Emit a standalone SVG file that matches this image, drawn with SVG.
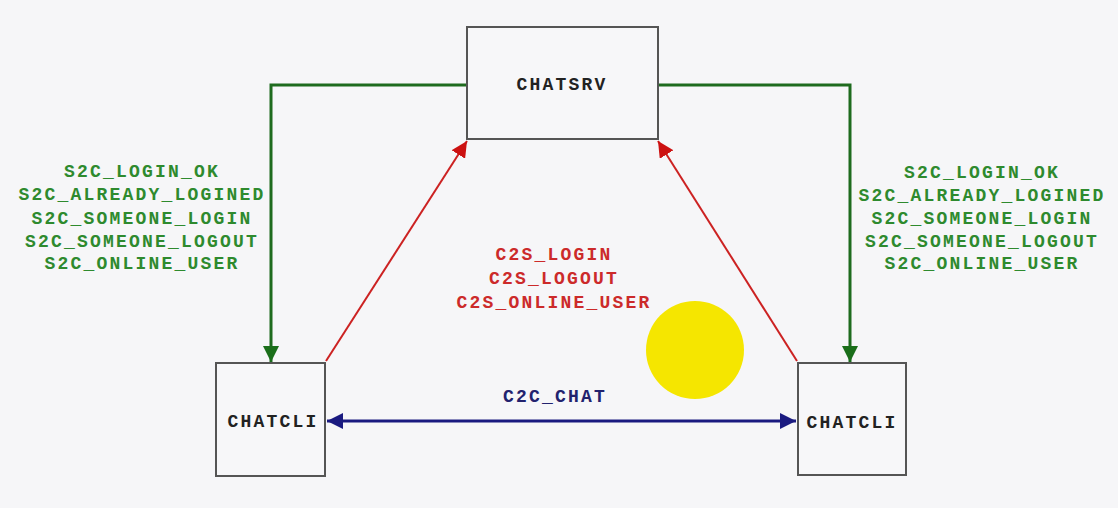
<svg xmlns="http://www.w3.org/2000/svg" width="1118" height="508" viewBox="0 0 1118 508">
<style>
.box{fill:#f7f7f9;stroke:#555;stroke-width:2}
.t{font-family:"Liberation Mono","DejaVu Sans Mono",monospace;font-weight:bold;font-size:18px;letter-spacing:2.2px;text-anchor:middle}
.node{fill:#222}
.g{fill:#2e8a2e}
.r{fill:#cc2a2a}
.b{fill:#22226e}
</style>
<defs>
<marker id="ag" viewBox="0 0 10 10" refX="10" refY="5" markerWidth="16" markerHeight="16" markerUnits="userSpaceOnUse" orient="auto"><path d="M0,0L10,5L0,10z" fill="#1a6e1a"/></marker>
<marker id="ar" viewBox="0 0 10 10" refX="10" refY="5" markerWidth="16" markerHeight="16" markerUnits="userSpaceOnUse" orient="auto"><path d="M0,0L10,5L0,10z" fill="#cc1111"/></marker>
<marker id="ab" viewBox="0 0 10 10" refX="10" refY="5" markerWidth="16" markerHeight="16" markerUnits="userSpaceOnUse" orient="auto-start-reverse"><path d="M0,0L10,5L0,10z" fill="#1a1a80"/></marker>
</defs>
<rect width="1118" height="508" fill="#f6f6f8"/>
<circle cx="695" cy="350" r="49" fill="#f5e600"/>
<g id="connectors" fill="none">
<polyline points="467,85 271,85 271,362" stroke="#1e6b1e" stroke-width="3" marker-end="url(#ag)"/>
<polyline points="658,85 850,85 850,362" stroke="#1e6b1e" stroke-width="3" marker-end="url(#ag)"/>
<line x1="326" y1="361" x2="467" y2="141" stroke="#cc2222" stroke-width="2" marker-end="url(#ar)"/>
<line x1="797" y1="361" x2="658" y2="141" stroke="#cc2222" stroke-width="2" marker-end="url(#ar)"/>
<line x1="327" y1="421" x2="796" y2="421" stroke="#1a1a80" stroke-width="3" marker-start="url(#ab)" marker-end="url(#ab)"/>
</g>
<g id="labels">
<text class="t g" x="142" y="177">S2C_LOGIN_OK</text>
<text class="t g" x="142" y="200">S2C_ALREADY_LOGINED</text>
<text class="t g" x="142" y="224">S2C_SOMEONE_LOGIN</text>
<text class="t g" x="142" y="247">S2C_SOMEONE_LOGOUT</text>
<text class="t g" x="142" y="269">S2C_ONLINE_USER</text>
<text class="t g" x="982" y="178">S2C_LOGIN_OK</text>
<text class="t g" x="982" y="201">S2C_ALREADY_LOGINED</text>
<text class="t g" x="982" y="224">S2C_SOMEONE_LOGIN</text>
<text class="t g" x="982" y="247">S2C_SOMEONE_LOGOUT</text>
<text class="t g" x="982" y="269">S2C_ONLINE_USER</text>
<text class="t r" x="554" y="260">C2S_LOGIN</text>
<text class="t r" x="554" y="284">C2S_LOGOUT</text>
<text class="t r" x="554" y="308">C2S_ONLINE_USER</text>
<text class="t b" x="555" y="402">C2C_CHAT</text>
</g>
<g id="chatsrv">
<rect class="box" x="467" y="27" width="191" height="112"/>
<text class="t node" x="562" y="90">CHATSRV</text>
</g>
<g id="chatcli-left">
<rect class="box" x="216" y="363" width="109" height="113"/>
<text class="t node" x="273" y="427">CHATCLI</text>
</g>
<g id="chatcli-right">
<rect class="box" x="798" y="363" width="108" height="112"/>
<text class="t node" x="852" y="428">CHATCLI</text>
</g>
</svg>
